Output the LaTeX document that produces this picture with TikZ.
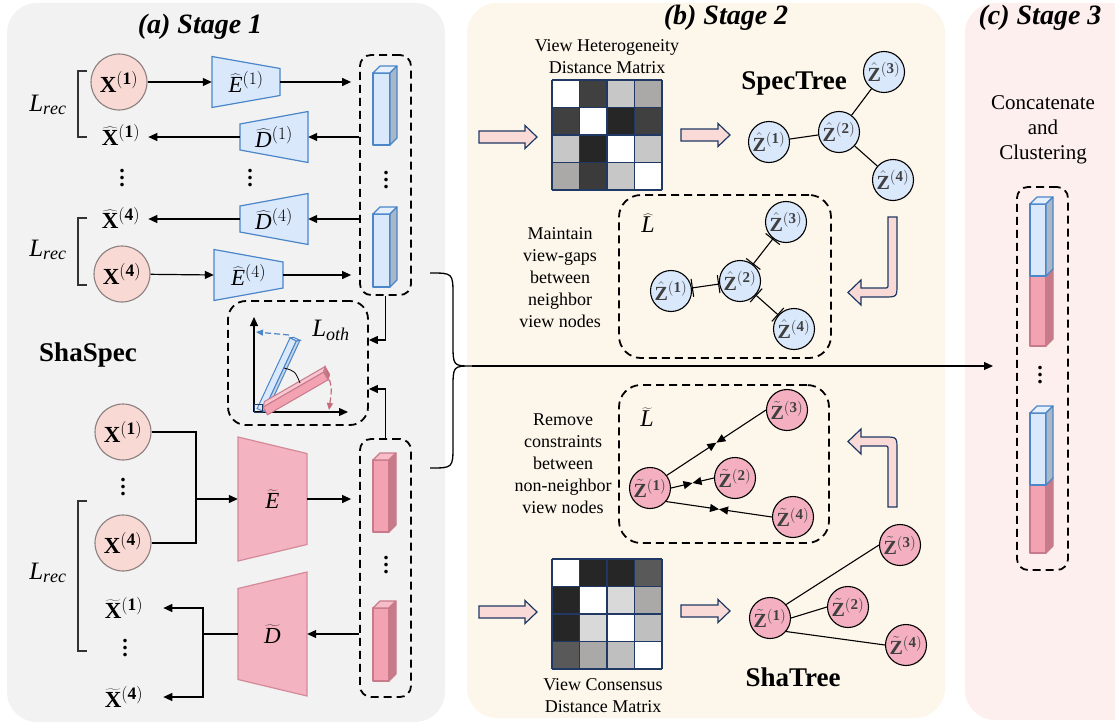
\RequirePackage{fix-cm}
\documentclass[tikz,border=0pt]{standalone}
\usepackage{fontspec}
\setmainfont{Liberation Serif}
\usetikzlibrary{arrows.meta,calc}

% larger script sizes for the math labels
\DeclareMathSizes{23}{23}{17.5}{13}
\DeclareMathSizes{20}{20}{15}{11}
\DeclareMathSizes{25}{25}{18}{14}
\DeclareMathSizes{24}{24}{17}{13}

\definecolor{panelA}{HTML}{F2F2F2}
\definecolor{panelB}{HTML}{FDF6EB}
\definecolor{panelC}{HTML}{FDEFED}
\definecolor{xfill}{HTML}{F8D9D4}
\definecolor{xline}{HTML}{8C7F7F}
\definecolor{bluefill}{HTML}{DAE8FC}
\definecolor{blueline}{HTML}{4A86C8}
\definecolor{blueside}{HTML}{A9B7C9}
\definecolor{pinkfill}{HTML}{F3A2B2}
\definecolor{pinkside}{HTML}{C77A88}
\definecolor{pinkline}{HTML}{C77A8A}
\definecolor{encpink}{HTML}{F4B3C0}
\definecolor{encline}{HTML}{D48A9A}
\definecolor{pinkdash}{HTML}{C46C7C}
\definecolor{navy}{HTML}{1F3864}
\definecolor{arrowfill}{HTML}{F9DAD6}
\definecolor{ztext}{HTML}{404040}
\definecolor{zpink}{HTML}{F4B0C0}
\definecolor{mgray}{HTML}{ABA8A8}

% vertical ellipsis with wider spacing than \vdots
\newcommand\vdotz{\vbox{\baselineskip=7pt\lineskiplimit=0pt\hbox{.}\hbox{.}\hbox{.}}}

% 3-D bar: x, y, width, height, front colour, side colour, line colour
\newcommand\cuboid[7]{%
  \filldraw[fill=#5, draw=#7, line width=1.1pt, line join=round] (#1,#2) rectangle (#1+#3,#2+#4);
  \filldraw[fill=#5!70!white, draw=#7, line width=1.1pt, line join=round]
    (#1,#2) -- (#1+7,#2-7) -- (#1+#3+7,#2-7) -- (#1+#3,#2) -- cycle;
  \filldraw[fill=#6, draw=#7, line width=1.1pt, line join=round]
    (#1+#3,#2) -- (#1+#3+7,#2-7) -- (#1+#3+7,#2+#4-7) -- (#1+#3,#2+#4) -- cycle;
}

% encoder / decoder trapezium with a named label node
% name, cx, cy, half width, left half height, right half height, style, label
\newcommand\trapnode[8]{%
  \filldraw[#7] (#2-#4,#3-#5) -- (#2+#4,#3-#6) -- (#2+#4,#3+#6) -- (#2-#4,#3+#5) -- cycle;
  \node[lbl, minimum width=2*#4pt, minimum height=20pt] (#1) at (#2,#3) {#8};
}

% straight block arrow: x start, x tip, y
\newcommand\blockarrow[3]{%
  \filldraw[barrow] (#1,#3-6) -- (#2-12,#3-6) -- (#2-12,#3-11.5) -- (#2,#3)
    -- (#2-12,#3+11.5) -- (#2-12,#3+6) -- (#1,#3+6) -- cycle;
}

% 4x4 distance matrix: x, y, 16 cell colours row by row
\newcommand\distmat[3]{%
  \foreach \cc [count=\ii from 0] in {#3} {
    \pgfmathtruncatemacro\rr{int(\ii/4)}%
    \pgfmathtruncatemacro\kk{mod(\ii,4)}%
    \fill[fill=\cc] (#1+\kk*27.5,#2+\rr*27.5) rectangle ++(27.5,27.5);
  }
  \foreach \jj in {0,...,4} {
    \draw[navy, line width=1.4pt] (#1+\jj*27.5,#2) -- (#1+\jj*27.5,#2+110);
    \draw[navy, line width=1.4pt] (#1,#2+\jj*27.5) -- (#1+110,#2+\jj*27.5);
  }
}

\begin{document}
\begin{tikzpicture}[x=1pt,y=-1pt,
  lbl/.style={inner sep=0pt, font=\fontsize{23}{26}\selectfont},
  xnode/.style={circle, draw=xline, fill=xfill, line width=1.1pt, minimum size=56pt,
    inner sep=0pt, font=\fontsize{23}{26}\selectfont},
  zb/.style={circle, draw=black, fill=bluefill, line width=1.1pt, minimum size=41pt,
    inner sep=0pt, text=ztext, font=\fontsize{20}{22}\selectfont},
  zp/.style={zb, fill=zpink},
  dbox/.style={draw=black, dash pattern=on 8pt off 5pt, line width=1.8pt,
    rounded corners=11pt, inner sep=0pt},
  arr/.style={-{Triangle[length=9pt,width=8pt]}, line width=1.2pt},
  conn/.style={line width=1.2pt},
  encb/.style={fill=bluefill, draw=blueline, line width=1.2pt},
  encp/.style={fill=encpink, draw=encline, line width=1.2pt},
  barrow/.style={fill=arrowfill, draw=navy, line width=1.2pt},
  ptitle/.style={inner sep=0pt, font=\fontsize{28}{32}\selectfont\bfseries\itshape},
  bigbold/.style={inner sep=0pt, font=\fontsize{27}{30}\selectfont\bfseries},
  note/.style={inner sep=0pt, align=center, font=\fontsize{18}{22}\selectfont},
  vdot/.style={inner sep=0pt, font=\fontsize{22}{22}\selectfont\bfseries},
  loss/.style={inner sep=0pt, font=\fontsize{25}{28}\selectfont},
  gapedge/.style={{Bar[width=18pt]}-{Bar[width=18pt]}, line width=1.1pt},
  meet/.style={-{Triangle[length=9pt,width=8pt]}, line width=1.1pt},
  brack/.style={line width=1.2pt, draw=black!80},
]
\useasboundingbox (0,0) rectangle (1115,725);
\clip (0,0) rectangle (1115,725);

% ---------- panels ----------
\fill[panelA, rounded corners=30pt] (7,3) rectangle (445,722);
\fill[panelB, rounded corners=30pt] (467,3) rectangle (945,718);
\fill[panelC, rounded corners=30pt] (965,3) rectangle (1140,720);

\node[ptitle] (ta) at (200,27) {(a) Stage 1};
\node[ptitle] (tb) at (726,18) {(b) Stage 2};
\node[ptitle] (tc) at (1040,18) {(c) Stage 3};

% ---------- stage 1: view-specific branch ----------
\node[xnode] (x1) at (119,82) {$\mathbf{X}^{\mathbf{(1)}}$};
\trapnode{e1}{246}{82}{34}{25.5}{13.5}{encb}{$\widehat{\mathit{E}}^{(1)}$}
\node[lbl] (xh1) at (121,135) {$\widehat{\mathbf{X}}^{\mathbf{(1)}}$};
\trapnode{d1}{274}{137}{34}{13}{25.5}{encb}{$\widehat{\mathit{D}}^{(1)}$}
\node[vdot] (va1) at (122,178) {\vdotz};
\node[vdot] (va2) at (250,178) {\vdotz};
\node[vdot] (va3) at (386,180) {\vdotz};
\node[lbl] (xh4) at (121,218) {$\widehat{\mathbf{X}}^{\mathbf{(4)}}$};
\trapnode{d4}{274}{219}{34}{13}{25.5}{encb}{$\widehat{\mathit{D}}^{(4)}$}
\node[xnode] (x4) at (122,274) {$\mathbf{X}^{\mathbf{(4)}}$};
\trapnode{e4}{248.5}{275}{34.5}{25.5}{13}{encb}{$\widehat{\mathit{E}}^{(4)}$}

\node[dbox, minimum width=51pt, minimum height=240pt] (boxA) at (385.5,175) {};
\cuboid{373}{73}{17}{72}{bluefill}{blueside}{blueline}
\cuboid{373}{214}{17}{73}{bluefill}{blueside}{blueline}

\draw[arr] (x1) -- (e1.west);
\draw[arr, shorten >=8pt] (e1.east) -- (e1.east -| boxA.west);
\draw[arr] (boxA.west |- d1) -- (d1.east);
\draw[arr, shorten >=8pt] (d1.west) -- (d1.west -| xh1.east);
\draw[arr] (boxA.west |- d4) -- (d4.east);
\draw[arr, shorten >=8pt] (d4.west) -- (d4.west -| xh4.east);
\draw[arr] (x4) -- (e4.west);
\draw[arr, shorten >=8pt] (e4.east) -- (e4.east -| boxA.west);

\draw[brack] (87,71) -- (78,71) -- (78,137) -- (87,137);
\node[loss] (lr1) at (48,105) {$\mathit{L}_{\mathit{rec}}$};
\draw[brack] (87,218) -- (78,218) -- (78,285) -- (87,285);
\node[loss] (lr2) at (48,250) {$\mathit{L}_{\mathit{rec}}$};

% ---------- orthogonality loss ----------
\node[dbox, rounded corners=18pt, minimum width=140pt, minimum height=124pt] (boxO) at (298,363) {};
\node[loss] (loth) at (331,330) {$\mathit{L}_{\mathit{oth}}$};
\coordinate (og) at (254,412);
\draw[arr, line width=1.1pt] (og) -- (254,317);
\draw[arr, line width=1.1pt] (og) -- (348,412);
\begin{scope}[shift={(258,409)}, rotate=65]
  \filldraw[fill=bluefill, draw=blueline, line width=1pt] (0,-1) rectangle (78,6);
  \filldraw[fill=bluefill!60!blueside, draw=blueline, line width=1pt]
    (0,6) -- (78,6) -- (80,9) -- (2,9) -- cycle;
  \filldraw[fill=bluefill!70!white, draw=blueline, line width=1pt]
    (78,-1) -- (78,6) -- (80,9) -- (80,2) -- cycle;
\end{scope}
\begin{scope}[shift={(263,407)}, rotate=30]
  \filldraw[fill=pinkfill, draw=pinkline, line width=1pt] (0,0) rectangle (70,9);
  \filldraw[fill=pinkfill!60!white, draw=pinkline, line width=1pt]
    (0,0) -- (70,0) -- (74,-4) -- (4,-4) -- cycle;
  \filldraw[fill=pinkside, draw=pinkline, line width=1pt]
    (70,0) -- (74,-4) -- (74,5) -- (70,9) -- cycle;
\end{scope}
\draw[navy, line width=0.9pt] (254,404) rectangle (262,412);
\draw[blueline, line width=1.2pt, dash pattern=on 6pt off 3pt, -{Triangle[length=7pt,width=6pt]}]
  (289,335) -- (256,332);
\draw[pinkdash, line width=1.2pt, dash pattern=on 6pt off 3pt, -{Triangle[length=7pt,width=6pt]}]
  (327,371) .. controls (332,388) .. (329,410);
\draw[line width=0.8pt] (284,368) .. controls (295,371) .. (300,383);

\node[bigbold] (shasp) at (88,355) {ShaSpec};

% ---------- stage 1: shared branch ----------
\node[xnode] (xb1) at (123,432) {$\mathbf{X}^{\mathbf{(1)}}$};
\node[vdot] (vb1) at (123,487) {\vdotz};
\node[xnode] (xb4) at (123,543) {$\mathbf{X}^{\mathbf{(4)}}$};
\trapnode{et}{272.5}{499}{34.5}{62}{45.5}{encp}{$\widetilde{\mathit{E}}$}
\trapnode{dt}{272.5}{634}{34.5}{45.5}{62}{encp}{$\widetilde{\mathit{D}}$}

\node[dbox, minimum width=51pt, minimum height=258pt] (boxB) at (385.5,568) {};
\cuboid{373}{460}{16}{72}{pinkfill}{pinkside}{pinkline}
\cuboid{373}{608}{16}{73}{pinkfill}{pinkside}{pinkline}
\node[vdot] (vb2) at (386,565) {\vdotz};

\coordinate (jx) at (196,499);
\draw[conn] (xb1.east) -| (jx);
\draw[conn] (xb4.east) -| (jx);
\draw[arr] (jx) -- (et.west);
\draw[arr, shorten >=8pt] (et.east) -- (et.east -| boxB.west);
\draw[arr] (boxB.west |- dt) -- (dt.east);

\node[lbl] (xt1) at (124,608) {$\widetilde{\mathbf{X}}^{\mathbf{(1)}}$};
\node[vdot] (vb3) at (125,648) {\vdotz};
\node[lbl] (xt4) at (124,697) {$\widetilde{\mathbf{X}}^{\mathbf{(4)}}$};
\coordinate (jd) at (203,634);
\draw[conn] (dt.west) -- (jd);
\draw[arr, shorten >=20pt] (jd) |- (xt1.east);
\draw[arr, shorten >=20pt] (jd) |- (xt4.east);

\draw[brack] (87,501) -- (78,501) -- (78,651) -- (87,651);
\node[loss] (lr3) at (48,573) {$\mathit{L}_{\mathit{rec}}$};

\draw[arr] (boxA.south) |- ($(boxO.east)+(0,-23)$);
\draw[arr] (boxB.north) |- ($(boxO.east)+(0,26)$);

% ---------- brace into stage 3 ----------
\coordinate (brtop) at (430,273);
\coordinate (brbot) at (430,468);
\coordinate (brtip) at (472,366);
\coordinate (cin) at (993,366);
\draw[line width=1.3pt] (brtop) .. controls (453,273) .. (453,296) -- (453,343)
  .. controls (453,366) .. (brtip) .. controls (453,366) .. (453,389) -- (453,445)
  .. controls (453,468) .. (brbot);
\draw[arr] (brtip) -- (cin);

% ---------- stage 2: specific tree ----------
\node[note] (vh) at (607,57) {View Heterogeneity\\Distance Matrix};
\distmat{552}{80}{white,black!75,black!22,mgray,
  black!75,white,black!85,black!75,
  black!22,black!85,white,black!22,
  mgray,black!77,black!22,white}
\blockarrow{479}{537}{137}
\blockarrow{681}{730}{135}

\node[bigbold] (spt) at (794,83) {SpecTree};
\node[zb] (sz1) at (769,142) {$\hat{\mathbf{Z}}^{\mathbf{(1)}}$};
\node[zb] (sz2) at (839,132) {$\hat{\mathbf{Z}}^{\mathbf{(2)}}$};
\node[zb] (sz3) at (884,72) {$\hat{\mathbf{Z}}^{\mathbf{(3)}}$};
\node[zb] (sz4) at (893,180) {$\hat{\mathbf{Z}}^{\mathbf{(4)}}$};
\draw[conn, line width=1.1pt] (sz1) -- (sz2);
\draw[conn, line width=1.1pt] (sz2) -- (sz3);
\draw[conn, line width=1.1pt] (sz2) -- (sz4);

\node[note] (mt) at (560,278) {Maintain\\view-gaps\\between\\neighbor\\view nodes};
\node[dbox, rounded corners=22pt, minimum width=212pt, minimum height=163pt] (boxL) at (725,276.5) {};
\node[loss, font=\fontsize{24}{28}\selectfont] (lhat) at (648,223) {$\widehat{\mathit{L}}$};
\node[zb] (hz1) at (671,291) {$\hat{\mathbf{Z}}^{\mathbf{(1)}}$};
\node[zb] (hz2) at (740,281) {$\hat{\mathbf{Z}}^{\mathbf{(2)}}$};
\node[zb] (hz3) at (786,222) {$\hat{\mathbf{Z}}^{\mathbf{(3)}}$};
\node[zb] (hz4) at (794,329) {$\hat{\mathbf{Z}}^{\mathbf{(4)}}$};
\draw[gapedge] (hz1) -- (hz2);
\draw[gapedge] (hz2) -- (hz3);
\draw[gapedge] (hz2) -- (hz4);

\filldraw[barrow] (888,217) -- (897,217) -- (897,284) .. controls (897,297) .. (884,297)
  -- (861,297) -- (861,305) -- (848,292.5) -- (861,280) -- (861,288) -- (884,288)
  .. controls (888,288) .. (888,284) -- cycle;

% ---------- stage 2: shared tree ----------
\node[note] (rc) at (563,464) {Remove\\constraints\\between\\non-neighbor\\view nodes};
\node[dbox, rounded corners=22pt, minimum width=210pt, minimum height=158pt] (boxT) at (724,464) {};
\node[loss, font=\fontsize{24}{28}\selectfont] (ltil) at (647,417) {$\widetilde{\mathit{L}}$};
\node[zp] (tz1) at (650,488) {$\tilde{\mathbf{Z}}^{\mathbf{(1)}}$};
\node[zp] (tz2) at (735,478) {$\tilde{\mathbf{Z}}^{\mathbf{(2)}}$};
\node[zp] (tz3) at (787,410) {$\tilde{\mathbf{Z}}^{\mathbf{(3)}}$};
\node[zp] (tz4) at (793,517) {$\tilde{\mathbf{Z}}^{\mathbf{(4)}}$};
\coordinate (m13) at ($(tz1.37)!0.5!(tz3.west)$);
\coordinate (m12) at ($(tz1.east)!0.5!(tz2.west)$);
\coordinate (m14) at ($(tz1.-40)!0.5!(tz4.west)$);
\draw[meet] (tz1.37) -- (m13);
\draw[meet] (tz3.west) -- (m13);
\draw[meet] (tz1.east) -- (m12);
\draw[meet] (tz2.west) -- (m12);
\draw[meet] (tz1.-40) -- (m14);
\draw[meet] (tz4.west) -- (m14);

\filldraw[barrow] (888,507) -- (897,507) -- (897,450) .. controls (897,437) .. (884,437)
  -- (861,437) -- (861,429) -- (848,441.5) -- (861,454) -- (861,446) -- (884,446)
  .. controls (888,446) .. (888,450) -- cycle;

\distmat{552}{559}{white,black!85,black!85,black!65,
  black!85,white,black!15,mgray,
  black!85,black!15,white,black!25,
  black!65,mgray,black!25,white}
\blockarrow{479}{537}{612}
\blockarrow{681}{730}{611}
\node[note] (vc) at (603,696) {View Consensus\\Distance Matrix};

\node[zp] (sh1) at (770,618) {$\tilde{\mathbf{Z}}^{\mathbf{(1)}}$};
\node[zp] (sh2) at (848,607) {$\tilde{\mathbf{Z}}^{\mathbf{(2)}}$};
\node[zp] (sh3) at (900,545) {$\tilde{\mathbf{Z}}^{\mathbf{(3)}}$};
\node[zp] (sh4) at (906,645) {$\tilde{\mathbf{Z}}^{\mathbf{(4)}}$};
\draw[conn, line width=1.1pt] (sh1.40) -- (sh3.west);
\draw[conn, line width=1.1pt] (sh1.east) -- (sh2.west);
\draw[conn, line width=1.1pt] (sh1.-40) -- (sh4.west);
\node[bigbold] (sht) at (793,677) {ShaTree};

% ---------- stage 3 ----------
\node[note, font=\fontsize{21}{25}\selectfont] (cc) at (1043,130) {Concatenate\\and\\Clustering};
\node[dbox, minimum width=51pt, minimum height=383pt] (boxC) at (1042.5,378.5) {};
\cuboid{1030}{276}{16}{70}{pinkfill}{pinkside}{pinkline}
\cuboid{1030}{204}{16}{72}{bluefill}{blueside}{blueline}
\node[vdot] (vc1) at (1040,375) {\vdotz};
\cuboid{1030}{485}{16}{68}{pinkfill}{pinkside}{pinkline}
\cuboid{1030}{413}{16}{72}{bluefill}{blueside}{blueline}
\end{tikzpicture}
\end{document}
